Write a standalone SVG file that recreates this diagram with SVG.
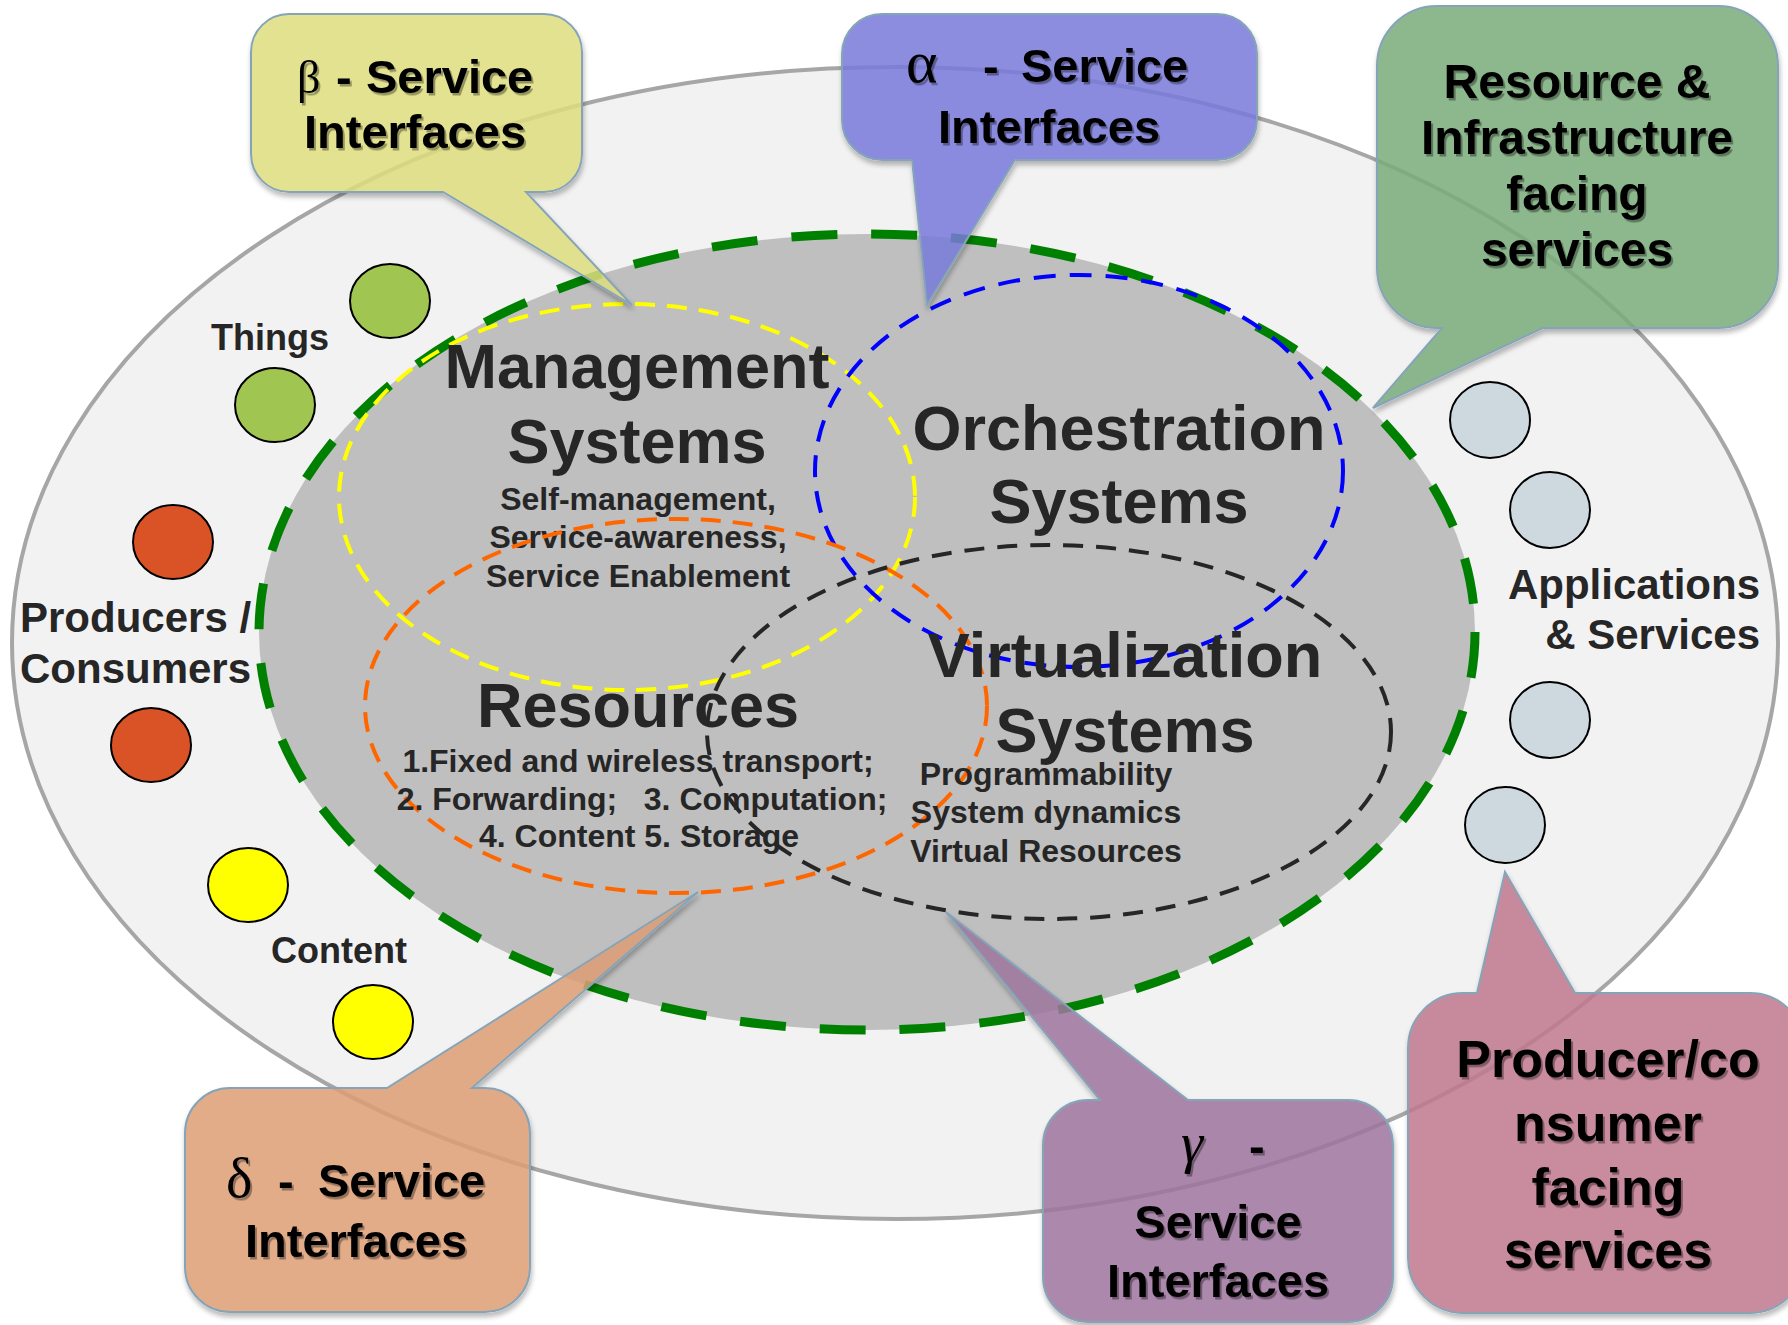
<svg xmlns="http://www.w3.org/2000/svg" width="1788" height="1325" viewBox="0 0 1788 1325">
<defs>
<style>
.lbl{font-family:"Liberation Sans",Arial,sans-serif;font-weight:bold;fill:#262626}
.big{font-size:63px;text-anchor:middle}
.sub{font-size:32px;text-anchor:middle}
.side{font-size:42px}
.side36{font-size:36px}
.co{font-family:"Liberation Sans",Arial,sans-serif;font-weight:bold;fill:#000;filter:url(#ts)}
.greek{font-family:"Liberation Serif","Times New Roman",serif;font-weight:normal}
.callout{stroke:#86a4b8;stroke-width:2;fill-opacity:0.85;filter:url(#cs)}
.dot{stroke:#000;stroke-width:2}
.dash{fill:none;stroke-width:4}
</style>
<filter id="cs" x="-10%" y="-10%" width="130%" height="130%">
<feGaussianBlur in="SourceAlpha" stdDeviation="2.5"/>
<feOffset dx="1" dy="4" result="b"/>
<feFlood flood-color="#000" flood-opacity="0.3"/>
<feComposite in2="b" operator="in" result="s"/>
<feComposite in="s" in2="SourceAlpha" operator="out" result="s2"/>
<feMerge><feMergeNode in="s2"/><feMergeNode in="SourceGraphic"/></feMerge>
</filter>
<filter id="ts" x="-5%" y="-10%" width="115%" height="130%">
<feDropShadow dx="2" dy="2.5" stdDeviation="0.6" flood-color="#000" flood-opacity="0.35"/>
</filter>
</defs>

<g id="background">
<ellipse cx="895" cy="643" rx="883" ry="576" fill="#f2f2f2" stroke="#a6a6a6" stroke-width="4"/>
<ellipse cx="867" cy="632" rx="608" ry="398" fill="#bfbfbf" stroke="#008000" stroke-width="9" stroke-dasharray="46 34"/>
</g>

<g id="management">
<ellipse class="dash" cx="627" cy="497" rx="288" ry="193" stroke="#ffff00" stroke-dasharray="20 12"/>
<text class="lbl big" x="637" y="388">Management</text>
<text class="lbl big" x="637" y="463">Systems</text>
<text class="lbl sub" x="638" y="510">Self-management,</text>
<text class="lbl sub" x="638" y="548">Service-awareness,</text>
<text class="lbl sub" x="638" y="587">Service Enablement</text>
</g>

<g id="orchestration">
<ellipse class="dash" cx="1079" cy="471" rx="264" ry="196" stroke="#0000ff" stroke-dasharray="22 14"/>
<text class="lbl big" x="1119" y="450">Orchestration</text>
<text class="lbl big" x="1119" y="523">Systems</text>
</g>

<g id="resources">
<ellipse class="dash" cx="676" cy="706" rx="311" ry="187" stroke="#ff6600" stroke-dasharray="20 12"/>
<text class="lbl big" x="638" y="727">Resources</text>
<text class="lbl sub" x="638" y="772">1.Fixed and wireless transport;</text>
<text class="lbl sub" x="642" y="810" style="white-space:pre">2. Forwarding;   3. Computation;</text>
<text class="lbl sub" x="639" y="847">4. Content 5. Storage</text>
</g>

<g id="virtualization">
<ellipse class="dash" cx="1049" cy="732" rx="342" ry="187" stroke="#262626" stroke-dasharray="20 13"/>
<text class="lbl big" x="1125" y="677">Virtualization</text>
<text class="lbl big" x="1125" y="752">Systems</text>
<text class="lbl sub" x="1046" y="785">Programmability</text>
<text class="lbl sub" x="1046" y="823">System dynamics</text>
<text class="lbl sub" x="1046" y="862">Virtual Resources</text>
</g>

<g id="things">
<ellipse class="dot" cx="390" cy="301" rx="40" ry="37" fill="#a0c550"/>
<ellipse class="dot" cx="275" cy="405" rx="40" ry="37" fill="#a0c550"/>
<text class="lbl side36" x="270" y="350" text-anchor="middle">Things</text>
</g>

<g id="producers-consumers">
<ellipse class="dot" cx="173" cy="542" rx="40" ry="37" fill="#da5327"/>
<ellipse class="dot" cx="151" cy="745" rx="40" ry="37" fill="#da5327"/>
<text class="lbl side" x="20" y="632">Producers /</text>
<text class="lbl side" x="20" y="683">Consumers</text>
</g>

<g id="content">
<ellipse class="dot" cx="248" cy="885" rx="40" ry="37" fill="#ffff00"/>
<ellipse class="dot" cx="373" cy="1022" rx="40" ry="37" fill="#ffff00"/>
<text class="lbl side36" x="271" y="963">Content</text>
</g>

<g id="applications-services">
<ellipse class="dot" cx="1490" cy="420" rx="40" ry="38" fill="#cdd9df"/>
<ellipse class="dot" cx="1550" cy="510" rx="40" ry="38" fill="#cdd9df"/>
<ellipse class="dot" cx="1550" cy="720" rx="40" ry="38" fill="#cdd9df"/>
<ellipse class="dot" cx="1505" cy="825" rx="40" ry="38" fill="#cdd9df"/>
<text class="lbl side" x="1760" y="599" text-anchor="end">Applications</text>
<text class="lbl side" x="1760" y="649" text-anchor="end">&amp; Services</text>
</g>

<g id="connectors"></g>

<g id="callout-beta">
<path class="callout" fill="#dedd7e" d="M289,14 H544 A38,38 0 0 1 582,52 V154 A38,38 0 0 1 544,192 H526 L632,305 L443,192 H289 A38,38 0 0 1 251,154 V52 A38,38 0 0 1 289,14 Z"/>
<text class="co" font-size="47" y="93"><tspan class="greek" x="297" font-size="46">β</tspan><tspan x="336">-</tspan><tspan x="366">Service</tspan></text>
<text class="co" font-size="47" x="415" y="148" text-anchor="middle">Interfaces</text>
</g>

<g id="callout-alpha">
<path class="callout" fill="#787ada" d="M882,14 H1217 A40,40 0 0 1 1257,54 V120 A40,40 0 0 1 1217,160 H1015 L927,305 L912,160 H882 A40,40 0 0 1 842,120 V54 A40,40 0 0 1 882,14 Z"/>
<text class="co" font-size="47" y="82"><tspan class="greek" x="906" font-size="60">α</tspan><tspan x="983">-</tspan><tspan x="1021">Service</tspan></text>
<text class="co" font-size="47" x="1049" y="143" text-anchor="middle">Interfaces</text>
</g>

<g id="callout-resource-infrastructure">
<path class="callout" fill="#7aab7a" d="M1437,6 H1718 A60,60 0 0 1 1778,66 V268 A60,60 0 0 1 1718,328 H1543 L1373,408 L1442,328 H1437 A60,60 0 0 1 1377,268 V66 A60,60 0 0 1 1437,6 Z"/>
<text class="co" font-size="48" text-anchor="middle" x="1577" y="98">Resource &amp;</text>
<text class="co" font-size="48" text-anchor="middle" x="1577" y="154">Infrastructure</text>
<text class="co" font-size="48" text-anchor="middle" x="1577" y="210">facing</text>
<text class="co" font-size="48" text-anchor="middle" x="1577" y="266">services</text>
</g>

<g id="callout-delta">
<path class="callout" fill="#dd9d75" d="M230,1088 H387 L698,892 L472,1088 H485 A45,45 0 0 1 530,1133 V1267 A45,45 0 0 1 485,1312 H230 A45,45 0 0 1 185,1267 V1133 A45,45 0 0 1 230,1088 Z"/>
<text class="co" font-size="47" y="1197"><tspan class="greek" x="226" font-size="56">δ</tspan><tspan x="278">-</tspan><tspan x="318">Service</tspan></text>
<text class="co" font-size="47" x="356" y="1257" text-anchor="middle">Interfaces</text>
</g>

<g id="callout-gamma">
<path class="callout" fill="#9d759d" d="M1088,1100 H1100 L946,912 L1188,1100 H1348 A45,45 0 0 1 1393,1145 V1277 A45,45 0 0 1 1348,1322 H1088 A45,45 0 0 1 1043,1277 V1145 A45,45 0 0 1 1088,1100 Z"/>
<text class="co" font-size="47" y="1162"><tspan class="greek" x="1181" font-size="56" font-style="italic">γ</tspan><tspan x="1249">-</tspan></text>
<text class="co" font-size="47" x="1218" y="1238" text-anchor="middle">Service</text>
<text class="co" font-size="47" x="1218" y="1297" text-anchor="middle">Interfaces</text>
</g>

<g id="callout-producer-consumer">
<path class="callout" fill="#c1788f" d="M1463,993 H1477 L1505,872 L1575,993 H1750 A55,55 0 0 1 1805,1048 V1258 A55,55 0 0 1 1750,1313 H1463 A55,55 0 0 1 1408,1258 V1048 A55,55 0 0 1 1463,993 Z"/>
<text class="co" font-size="52" text-anchor="middle" x="1608" y="1077">Producer/co</text>
<text class="co" font-size="52" text-anchor="middle" x="1608" y="1141">nsumer</text>
<text class="co" font-size="52" text-anchor="middle" x="1608" y="1205">facing</text>
<text class="co" font-size="52" text-anchor="middle" x="1608" y="1268">services</text>
</g>
</svg>
